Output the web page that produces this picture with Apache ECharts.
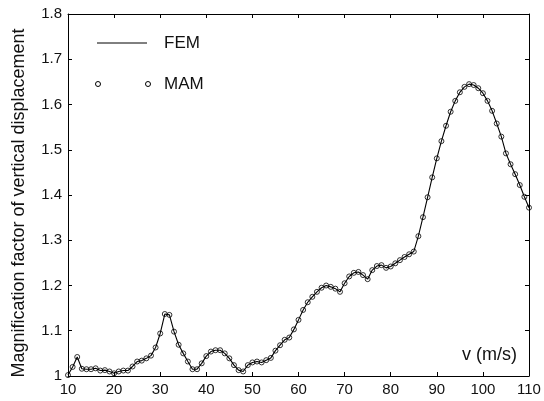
<!DOCTYPE html>
<html>
<head>
<meta charset="utf-8">
<script src="https://cdn.jsdelivr.net/npm/echarts@6/dist/echarts.min.js"></script>
<style>
  html, body { margin: 0; padding: 0; background: #fff; }
  #chart { width: 544px; height: 401px; }
</style>
</head>
<body>
<div id="chart"></div>
<script>
// Train speed (m/s), sampled every 1 m/s
const speeds = [];
for (let v = 10; v <= 110; v++) speeds.push(v);

// Magnification factor of vertical displacement (FEM and MAM agree closely)
const femValues = [
  1.002, 1.020, 1.042, 1.016, 1.015, 1.015, 1.017, 1.012, 1.013, 1.010,
  1.006, 1.010, 1.012, 1.012, 1.021, 1.032, 1.034, 1.039, 1.045, 1.063,
  1.094, 1.137, 1.135, 1.098, 1.069, 1.050, 1.032, 1.015, 1.015, 1.028,
  1.044, 1.054, 1.057, 1.057, 1.050, 1.039, 1.024, 1.013, 1.010, 1.024,
  1.030, 1.032, 1.030, 1.035, 1.040, 1.056, 1.068, 1.080, 1.085, 1.103,
  1.124, 1.146, 1.163, 1.175, 1.186, 1.195, 1.200, 1.197, 1.193, 1.186,
  1.205, 1.220, 1.228, 1.230, 1.223, 1.214, 1.234, 1.243, 1.245, 1.239,
  1.242, 1.249, 1.256, 1.263, 1.269, 1.275, 1.309, 1.351, 1.395, 1.439,
  1.481, 1.519, 1.553, 1.584, 1.608, 1.627, 1.639, 1.645, 1.643, 1.636,
  1.625, 1.608, 1.586, 1.558, 1.529, 1.492, 1.468, 1.446, 1.422, 1.396,
  1.372
];
const mamValues = femValues.slice();

const xTicks = { min: 10, max: 110, interval: 10 };
const yTicks = { min: 1.0, max: 1.8, interval: 0.1 };

const FONT = 'Liberation Sans, Arial, sans-serif';
const TEXT = '#111';

const chart = echarts.init(document.getElementById('chart'));

const axisLine = { show: true, lineStyle: { color: '#000', width: 1 } };
const tickIn = { show: true, inside: true, length: 4, lineStyle: { color: '#000' } };

chart.setOption({
  animation: false,
  backgroundColor: '#fff',
  grid: { left: 68, right: 15, top: 14, bottom: 25, containLabel: false },
  xAxis: [
    {
      type: 'value', position: 'bottom',
      min: xTicks.min, max: xTicks.max, interval: xTicks.interval,
      axisLine, axisTick: tickIn,
      axisLabel: { color: TEXT, fontFamily: FONT, fontSize: 15, margin: 6 },
      splitLine: { show: false }
    },
    {
      type: 'value', position: 'top',
      min: xTicks.min, max: xTicks.max, interval: xTicks.interval,
      axisLine, axisTick: tickIn, axisLabel: { show: false },
      splitLine: { show: false }
    }
  ],
  yAxis: [
    {
      type: 'value', position: 'left',
      min: yTicks.min, max: yTicks.max, interval: yTicks.interval,
      axisLine, axisTick: tickIn,
      axisLabel: { color: TEXT, fontFamily: FONT, fontSize: 15, margin: 6 },
      splitLine: { show: false },
      name: 'Magnification factor of vertical displacement',
      nameLocation: 'middle', nameGap: 40,
      nameTextStyle: { color: TEXT, fontFamily: FONT, fontSize: 18, padding: [0, 16, 0, 0] }
    },
    {
      type: 'value', position: 'right',
      min: yTicks.min, max: yTicks.max, interval: yTicks.interval,
      axisLine, axisTick: tickIn, axisLabel: { show: false },
      splitLine: { show: false }
    }
  ],
  series: [
    {
      name: 'FEM', type: 'line',
      data: speeds.map((v, i) => [v, femValues[i]]),
      symbol: 'none',
      lineStyle: { color: '#000', width: 1.1 },
      z: 2
    },
    {
      name: 'MAM', type: 'scatter',
      data: speeds.map((v, i) => [v, mamValues[i]]),
      symbol: 'circle', symbolSize: 5,
      itemStyle: { color: 'rgba(0,0,0,0)', borderColor: '#000', borderWidth: 1 },
      z: 3
    }
  ],
  graphic: [
    // legend
    { type: 'line', shape: { x1: 97, y1: 43, x2: 147, y2: 43 }, style: { stroke: '#000', lineWidth: 1 } },
    { type: 'text', x: 164, y: 43, style: { text: 'FEM', fill: TEXT, font: '17px ' + FONT, verticalAlign: 'middle' } },
    { type: 'circle', shape: { cx: 98, cy: 84, r: 2.5 }, style: { fill: 'none', stroke: '#000', lineWidth: 1 } },
    { type: 'circle', shape: { cx: 148, cy: 84, r: 2.5 }, style: { fill: 'none', stroke: '#000', lineWidth: 1 } },
    { type: 'text', x: 164, y: 84, style: { text: 'MAM', fill: TEXT, font: '17px ' + FONT, verticalAlign: 'middle' } },
    // axis title inside the plot
    { type: 'text', x: 517, y: 355, style: { text: 'v (m/s)', fill: TEXT, font: '18px ' + FONT, align: 'right', verticalAlign: 'middle' } }
  ]
});
</script>
</body>
</html>
